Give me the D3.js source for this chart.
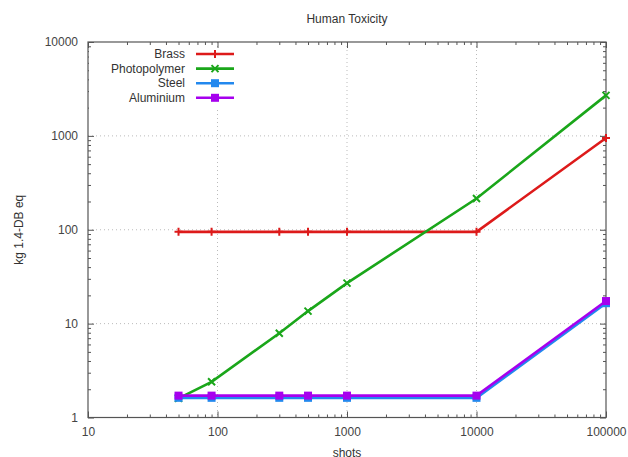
<!DOCTYPE html>
<html>
<head>
<meta charset="utf-8">
<script src="https://cdn.jsdelivr.net/npm/d3@7"></script>
<style>
  body { margin: 0; background: #fff; }
  text { font-family: "Liberation Sans", Arial, sans-serif; font-size: 12px; fill: #333; }
</style>
</head>
<body>
<svg id="chart" width="628" height="457"></svg>
<script>
// values
var shots = [50, 90, 300, 500, 1000, 10000, 100000];
var brass = [95, 95, 95, 95, 95, 95, 950];
var photopolymer = [1.6, 2.4, 7.9, 13.6, 27, 215, 2700];
var steel = [1.62, 1.62, 1.62, 1.62, 1.62, 1.62, 16.5];
var aluminium = [1.71, 1.71, 1.71, 1.71, 1.71, 1.71, 17.4];
var seriesNames = ['Brass', 'Photopolymer', 'Steel', 'Aluminium'];
var xTicks = [10, 100, 1000, 10000, 100000];
var yTicks = [1, 10, 100, 1000, 10000];

var colors = ['#dd1a1a', '#1aa61a', '#2288ee', '#a600ee'];
var markers = ['plus', 'cross', 'square', 'square'];
var series = [brass, photopolymer, steel, aluminium].map(function(vals, i) {
  return {
    name: seriesNames[i],
    color: colors[i],
    marker: markers[i],
    points: vals.map(function(v, k) { return {x: shots[k], y: v}; }),
  };
});

var pLeft = 88, pRight = 606, pTop = 42, pBottom = 417.5;
var svg = d3.select('#chart');

var x = d3.scaleLog().domain([10, 100000]).range([pLeft, pRight]);
var y = d3.scaleLog().domain([1, 10000]).range([pBottom, pTop]);

// dotted grid on the inner decades
var grid = svg.append('g');
grid.selectAll('line.gx')
  .data(xTicks.slice(1, -1))
  .enter()
  .append('line')
  .attr('x1', d => x(d)).attr('x2', d => x(d))
  .attr('y1', pTop).attr('y2', pBottom)
  .style('stroke', '#bbb').style('stroke-dasharray', '1,3');
grid.selectAll('line.gy')
  .data(yTicks.slice(1, -1))
  .enter()
  .append('line')
  .attr('x1', pLeft).attr('x2', pRight)
  .attr('y1', d => y(d)).attr('y2', d => y(d))
  .style('stroke', '#bbb').style('stroke-dasharray', '1,3');

// inward ticks on all four sides, minor ones shorter
function isMajor(d) {
  return Math.abs(Math.log10(d) - Math.round(Math.log10(d))) < 1e-9;
}
var xMinor = x.ticks().filter(d => !isMajor(d));
var yMinor = y.ticks().filter(d => !isMajor(d));

function drawAxis(axisFn, scale, pos, major, minor, labels) {
  var g = svg.append('g').attr('transform', pos);
  g.call(axisFn(scale).tickValues(minor).tickSize(-3).tickFormat(''));
  var m = svg.append('g').attr('transform', pos);
  m.call(axisFn(scale).tickValues(major).tickSize(-6).tickPadding(10)
    .tickFormat(labels ? d3.format('d') : ''));
  [g, m].forEach(function(a) {
    a.select('.domain').remove();
    a.selectAll('.tick line').style('stroke', '#555');
  });
  m.selectAll('.tick text').style('font-size', '12px').style('fill', '#444');
  m.attr('font-family', null);
}
drawAxis(d3.axisBottom, x, `translate(0,${pBottom})`, xTicks, xMinor, true);
drawAxis(d3.axisTop, x, `translate(0,${pTop})`, xTicks, xMinor, false);
drawAxis(d3.axisLeft, y, `translate(${pLeft},0)`, yTicks, yMinor, true);
drawAxis(d3.axisRight, y, `translate(${pRight},0)`, yTicks, yMinor, false);

// legend box hides the grid behind it
svg.append('rect')
  .attr('x', pLeft + 1).attr('y', pTop + 7)
  .attr('width', 152).attr('height', 60)
  .style('fill', '#fff');

svg.append('rect')
  .attr('x', pLeft).attr('y', pTop)
  .attr('width', pRight - pLeft).attr('height', pBottom - pTop)
  .style('fill', 'none').style('stroke', '#555').style('stroke-width', 1.2);

function drawMarker(g, type, cx, cy, color) {
  if (type === 'plus') {
    g.append('path')
      .attr('d', `M${cx - 4},${cy}H${cx + 4}M${cx},${cy - 4}V${cy + 4}`)
      .style('stroke', color).style('stroke-width', 2);
  } else if (type === 'cross') {
    g.append('path')
      .attr('d', `M${cx - 3.5},${cy - 3.5}L${cx + 3.5},${cy + 3.5}M${cx - 3.5},${cy + 3.5}L${cx + 3.5},${cy - 3.5}`)
      .style('stroke', color).style('stroke-width', 2);
  } else {
    g.append('rect')
      .attr('x', cx - 4).attr('y', cy - 4)
      .attr('width', 8).attr('height', 8)
      .style('fill', color);
  }
}

var line = d3.line().x(d => x(d.x)).y(d => y(d.y));

series.forEach(function(s) {
  var g = svg.append('g');
  g.append('path')
    .datum(s.points)
    .attr('d', line)
    .style('fill', 'none')
    .style('stroke', s.color)
    .style('stroke-width', 2.6);
  s.points.forEach(function(p) {
    drawMarker(g, s.marker, x(p.x), y(p.y), s.color);
  });
});

// legend
series.forEach(function(s, i) {
  var ly = 54 + i * 14.6;
  var g = svg.append('g');
  g.append('text')
    .attr('x', 185).attr('y', ly + 4)
    .attr('text-anchor', 'end')
    .text(s.name);
  g.append('line')
    .attr('x1', 196).attr('x2', 234)
    .attr('y1', ly).attr('y2', ly)
    .style('stroke', s.color).style('stroke-width', 2.6);
  drawMarker(g, s.marker, 215, ly, s.color);
});

svg.append('text')
  .attr('x', (pLeft + pRight) / 2).attr('y', 23)
  .attr('text-anchor', 'middle')
  .text('Human Toxicity');

svg.append('text')
  .attr('x', (pLeft + pRight) / 2).attr('y', 457)
  .attr('text-anchor', 'middle')
  .text('shots');

svg.append('text')
  .attr('transform', `translate(23,${(pTop + pBottom) / 2}) rotate(-90)`)
  .attr('text-anchor', 'middle')
  .text('kg 1.4-DB eq');
</script>
</body>
</html>
